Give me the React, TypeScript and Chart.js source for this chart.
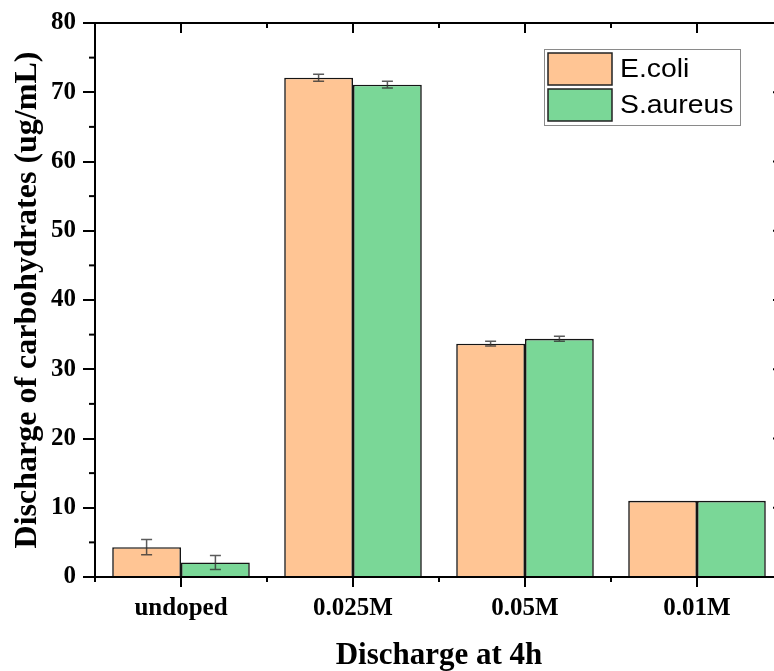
import React, { useEffect, useRef } from "react";
import { Chart, registerables } from "chart.js";

Chart.register(...registerables);

const categories = ["undoped", "0.025M", "0.05M", "0.01M"];
const seriesNames = ["E.coli", "S.aureus"];
const ecoliValues = [4.3, 72.1, 33.7, 11.0];
const ecoliErrors = [1.1, 0.5, 0.35, 0];
const saureusValues = [2.1, 71.1, 34.4, 11.0];
const saureusErrors = [1.0, 0.5, 0.35, 0];
const yMin = 0;
const yMax = 80;
const yStep = 10;
const yMinorStep = 5;
const xTitle = "Discharge at 4h";
const yTitle = "Discharge of carbohydrates (ug/mL)";

const fillColors = ["#FFC594", "#7AD797"];
const errorSets = [ecoliErrors, saureusErrors];

const SERIF = "'Liberation Serif', 'Times New Roman', serif";
const SANS = "'Liberation Sans', Arial, sans-serif";

const errorBarPlugin = {
  id: "errorBars",
  afterDatasetsDraw(chart: any) {
    const ctx = chart.ctx;
    const yScale = chart.scales.y;
    chart.data.datasets.forEach((ds: any, di: number) => {
      const meta = chart.getDatasetMeta(di);
      const errs = errorSets[di];
      meta.data.forEach((el: any, i: number) => {
        const v = ds.data[i];
        const e = errs[i];
        if (!e) return;
        const yTop = yScale.getPixelForValue(v + e);
        const yBot = yScale.getPixelForValue(v - e);
        const x = el.x;
        ctx.save();
        ctx.strokeStyle = "rgba(50,50,50,0.8)";
        ctx.lineWidth = 1.5;
        ctx.beginPath();
        ctx.moveTo(x, yTop);
        ctx.lineTo(x, yBot);
        ctx.moveTo(x - 5.5, yTop);
        ctx.lineTo(x + 5.5, yTop);
        ctx.moveTo(x - 5.5, yBot);
        ctx.lineTo(x + 5.5, yBot);
        ctx.stroke();
        ctx.restore();
      });
    });
  },
};

const framePlugin = {
  id: "frame",
  afterDraw(chart: any) {
    const ctx = chart.ctx;
    const { left, right, top, bottom } = chart.chartArea;
    const xScale = chart.scales.x;
    const yScale = chart.scales.y;
    ctx.save();
    ctx.strokeStyle = "#000";
    ctx.lineWidth = 2;
    ctx.beginPath();
    ctx.moveTo(left, top);
    ctx.lineTo(right, top);
    ctx.lineTo(right, bottom);
    ctx.stroke();
    for (let v = yMin; v <= yMax; v += yMinorStep) {
      const y = yScale.getPixelForValue(v);
      const major = v % yStep === 0;
      if (!major) {
        ctx.beginPath();
        ctx.moveTo(left - 6, y);
        ctx.lineTo(left, y);
        ctx.stroke();
      }
      ctx.beginPath();
      ctx.moveTo(right, y);
      ctx.lineTo(right - (major ? 10 : 5), y);
      ctx.stroke();
    }
    const n = categories.length;
    for (let i = 0; i < n; i++) {
      const cx = xScale.getPixelForValue(i);
      ctx.beginPath();
      ctx.moveTo(cx, top);
      ctx.lineTo(cx, top + 10);
      ctx.stroke();
    }
    for (let i = 0; i <= n; i++) {
      const bx = xScale.getPixelForValue(i - 0.5);
      ctx.beginPath();
      ctx.moveTo(bx, bottom);
      ctx.lineTo(bx, bottom + 5);
      ctx.moveTo(bx, top);
      ctx.lineTo(bx, top + 5);
      ctx.stroke();
    }
    ctx.restore();
  },
};

const legendPlugin = {
  id: "boxLegend",
  afterDraw(chart: any) {
    const ctx = chart.ctx;
    const bx = 544, by = 49, bw = 196, bh = 76;
    ctx.save();
    ctx.fillStyle = "#fff";
    ctx.fillRect(bx, by, bw, bh);
    ctx.strokeStyle = "#8a8a8a";
    ctx.lineWidth = 1;
    ctx.strokeRect(bx + 0.5, by + 0.5, bw, bh);
    chart.data.datasets.forEach((ds: any, i: number) => {
      const sy = by + 4 + i * 36;
      ctx.fillStyle = ds.backgroundColor;
      ctx.fillRect(bx + 4, sy, 64, 32);
      ctx.strokeStyle = "#222";
      ctx.lineWidth = 1.5;
      ctx.strokeRect(bx + 4, sy, 64, 32);
      ctx.fillStyle = "#000";
      ctx.font = `26px ${SANS}`;
      ctx.textBaseline = "middle";
      ctx.save();
      ctx.translate(bx + 76, sy + 16);
      ctx.scale(1.09, 1);
      ctx.fillText(ds.label, 0, 1);
      ctx.restore();
    });
    ctx.restore();
  },
};

export default function App() {
  const ref = useRef<HTMLCanvasElement | null>(null);
  useEffect(() => {
    document.body.style.margin = "0";
    document.body.style.overflow = "hidden";
    const canvas = ref.current!;
    const chart = new Chart(canvas, {
      type: "bar",
      data: {
        labels: categories,
        datasets: [
          {
            label: seriesNames[0],
            data: ecoliValues,
            backgroundColor: fillColors[0],
            borderColor: "#151515",
            borderWidth: 1.6,
            categoryPercentage: 0.8,
            barPercentage: 1,
          },
          {
            label: seriesNames[1],
            data: saureusValues,
            backgroundColor: fillColors[1],
            borderColor: "#151515",
            borderWidth: 1.6,
            categoryPercentage: 0.8,
            barPercentage: 1,
          },
        ],
      },
      options: {
        responsive: false,
        animation: false,
        devicePixelRatio: 1,
        layout: { padding: { top: 23, right: 7, left: 0, bottom: 0 } },
        plugins: { legend: { display: false }, tooltip: { enabled: false } },
        scales: {
          x: {
            type: "category",
            offset: true,
            grid: {
              display: true,
              drawOnChartArea: false,
              offset: false,
              tickLength: 10,
              color: "#000",
              lineWidth: 2,
            },
            border: { color: "#000", width: 2 },
            ticks: {
              color: "#000",
              padding: 7,
              font: { family: SERIF, size: 25, weight: "bold" },
              maxRotation: 0,
            },
            title: {
              display: true,
              text: xTitle,
              color: "#000",
              font: { family: SERIF, size: 31, weight: "bold" },
              padding: { top: 0, bottom: -4 },
            },
            afterFit: (s: any) => {
              s.height = 94;
            },
          },
          y: {
            min: yMin,
            max: yMax,
            grid: {
              display: true,
              drawOnChartArea: false,
              tickLength: 12,
              color: "#000",
              lineWidth: 2,
            },
            border: { color: "#000", width: 2 },
            ticks: {
              stepSize: yStep,
              color: "#000",
              padding: 7,
              font: { family: SERIF, size: 25, weight: "bold" },
            },
            title: {
              display: true,
              text: yTitle,
              color: "#000",
              font: { family: SERIF, size: 32, weight: "bold" },
              padding: { top: 9, bottom: 0 },
            },
            afterFit: (s: any) => {
              s.width = 95;
            },
          },
        },
      },
      plugins: [errorBarPlugin, framePlugin, legendPlugin],
    } as any);
    return () => chart.destroy();
  }, []);
  return (
    <div
      style={{
        position: "fixed",
        left: 0,
        top: 0,
        width: 774,
        height: 671,
        overflow: "hidden",
        background: "#fff",
      }}
    >
      <canvas ref={ref} width={790} height={671} style={{ display: "block", width: 790, height: 671 }} />
    </div>
  );
}
